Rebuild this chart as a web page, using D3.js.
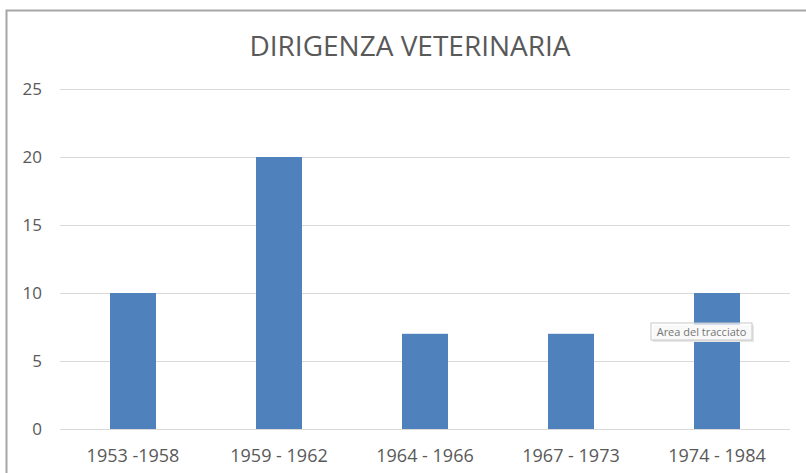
<!DOCTYPE html>
<html>
<head>
<meta charset="utf-8">
<script src="https://cdn.jsdelivr.net/npm/d3@7"></script>
<style>
  body { margin: 0; background: #fff; }
  svg { display: block; font-family: "Open Sans", sans-serif; }
</style>
</head>
<body>
<svg id="chart" width="806" height="473"></svg>
<script>
const categories = ["1953 -1958", "1959 - 1962", "1964 - 1966", "1967 - 1973", "1974 - 1984"];
const values = [10, 20, 7, 7, 10];
const yTicks = [0, 5, 10, 15, 20, 25];

const svg = d3.select("#chart");
const W = 806, H = 473;
const margin = { left: 60, right: 16, top: 89, bottom: 44 };

// chart frame (only left/top edges visible in the crop)
svg.append("path")
    .attr("d", `M6.5,${H} V10.5 H${W}`)
    .attr("fill", "none")
    .attr("stroke", "#a6a6a6")
    .attr("stroke-width", 2);

svg.append("text")
    .attr("x", 410).attr("y", 56)
    .attr("text-anchor", "middle")
    .style("font-size", "28px")
    .style("fill", "#595959")
    .text("DIRIGENZA VETERINARIA");

const x = d3.scaleBand()
    .domain(categories)
    .range([margin.left, W - margin.right])
    .paddingInner(0.685)
    .paddingOuter(0.3425);

const y = d3.scaleLinear()
    .domain([0, 25])
    .range([H - margin.bottom, margin.top]);

// gridlines
svg.append("g")
    .selectAll("line")
    .data(yTicks)
    .join("line")
    .attr("x1", margin.left).attr("x2", W - margin.right)
    .attr("y1", d => Math.round(y(d)) + 0.5)
    .attr("y2", d => Math.round(y(d)) + 0.5)
    .attr("stroke", "#d9d9d9")
    .attr("stroke-width", 1);

// y labels
svg.append("g")
    .selectAll("text")
    .data(yTicks)
    .join("text")
    .attr("x", 42)
    .attr("y", d => y(d))
    .attr("dy", "0.35em")
    .attr("text-anchor", "end")
    .style("font-size", "17px")
    .style("fill", "#595959")
    .text(d => d);

// bars
svg.append("g")
    .selectAll("rect")
    .data(values)
    .join("rect")
    .attr("x", (d, i) => x(categories[i]))
    .attr("y", d => y(d))
    .attr("width", x.bandwidth())
    .attr("height", d => y(0) - y(d))
    .attr("fill", "#4f81bd");

// x labels
svg.append("g")
    .selectAll("text")
    .data(categories)
    .join("text")
    .attr("x", d => x(d) + x.bandwidth() / 2)
    .attr("y", 462)
    .attr("text-anchor", "middle")
    .style("font-size", "18px")
    .style("fill", "#595959")
    .text(d => d);

// hover tooltip visible in the screenshot
const tip = svg.append("g").attr("transform", "translate(651,323)");
tip.append("rect")
    .attr("x", 2).attr("y", 2)
    .attr("width", 101).attr("height", 17)
    .attr("fill", "#e6e6e6");
tip.append("rect")
    .attr("width", 101).attr("height", 17)
    .attr("fill", "rgba(255,255,255,0.75)")
    .attr("stroke", "#c8c8c8");
tip.append("text")
    .attr("x", 50.5).attr("y", 12.5)
    .attr("text-anchor", "middle")
    .style("font-size", "11px")
    .style("fill", "#767676")
    .text("Area del tracciato");
</script>
</body>
</html>
